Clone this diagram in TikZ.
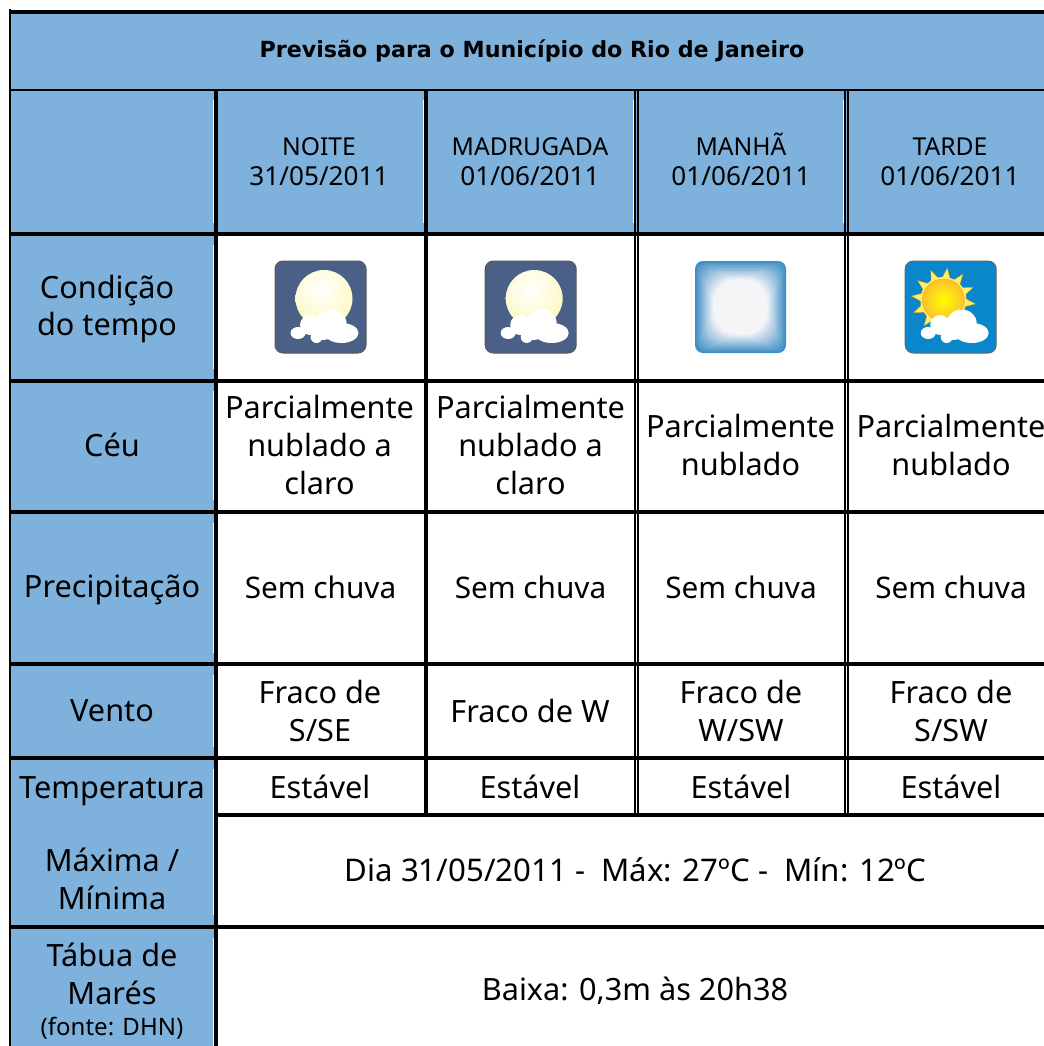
\documentclass[tikz,border=0pt]{standalone}
\usepackage{fontspec}
\setmainfont{Noto Sans}
\newfontfamily\titlefont{DejaVu Sans}
\definecolor{hdr}{HTML}{7EB1DB}
\definecolor{night}{HTML}{4A6087}
\definecolor{sky}{HTML}{0A87CB}
\definecolor{hazeedge}{HTML}{3F8EC6}
\definecolor{hazecore}{HTML}{F5F5F8}
\definecolor{moonrim}{HTML}{FBF6A8}
\definecolor{raycol}{HTML}{FFEE66}
\definecolor{suncol}{HTML}{FBC02D}
\tikzset{
  hfill/.style={fill=hdr,draw=none},
  thick line/.style={line width=3pt},
  thin line/.style={line width=1.5pt},
  txt/.style={font=\fontsize{23}{28.3}\selectfont,align=center,text=black,inner sep=0pt},
  chd/.style={txt,font=\fontsize{18.5}{22}\selectfont},
  rain/.style={txt,font=\fontsize{22.3}{28}\selectfont},
  icon/.style={rounded corners=6pt,line width=.75pt},
}
\newcommand{\hdate}[1]{{\fontsize{19.6}{22}\selectfont #1}}
\newcommand{\cloudshape}{%
  \fill[white] (-22.5,26) ellipse [x radius=7.5,y radius=6];
  \fill[white] (-10.5,18) ellipse [x radius=10,y radius=10];
  \fill[white] (-4,30) ellipse [x radius=6,y radius=6];
  \fill[white] (11,16.5) ellipse [x radius=15,y radius=14];
  \fill[white] (21,26) ellipse [x radius=17,y radius=10];
  \fill[white] (3,25) ellipse [x radius=10,y radius=8];
}
\newcommand{\moonicon}[2]{%
 \begin{scope}[shift={(#1,#2)}]
  \fill[night,draw=black!65,icon] (-45.5,-46) rectangle (45.5,46);
  \begin{scope}
   \clip (3.5,-8.5) circle [radius=28.5];
   \shade[inner color=white,outer color=moonrim] (0,-17) circle [radius=52];
  \end{scope}
  \cloudshape
 \end{scope}}
\begin{document}
\begin{tikzpicture}[x=0.75pt,y=-0.75pt]
\useasboundingbox (0,0) rectangle (1044,1046);
\fill[white] (0,0) rectangle (1044,1046);
% blue areas
\fill[hfill] (10,12) rectangle (1044,233);
\fill[hfill] (10,233) rectangle (214,1046);
% white slivers beside the inner borders
\foreach \xx in {213,423,633,843} \fill[white] (\xx,100) rectangle (\xx+1,223);
\foreach \ya/\yb in {245/369,391/500,523/653,675/747,769/915,938/1046}
  \fill[white] (213,\ya) rectangle (214,\yb);
% borders
\draw[black,thick line] (10,12) -- (1044,12);
\draw[black,line width=1.5pt] (10,9) -- (10,1046);
\draw[black,thin line] (10,90) -- (1044,90);
\foreach \yy in {234,380.5,511.5,664,758,927} \draw[black,thick line] (10,\yy) -- (1044,\yy);
\draw[black,thick line] (216,815) -- (1044,815);
\draw[black,thick line] (216,90) -- (216,1046);
\draw[black,thick line] (426,90) -- (426,816);
\foreach \xx in {635,638,845,848} \draw[black,line width=1.5pt] (\xx,90) -- (\xx,816);
% title
\node[txt,font=\fontsize{16.65}{20}\titlefont\bfseries] (title) at (532,51) {Previsão para o Município do Rio de Janeiro};
% column headers
\node[chd] (h1) at (319,159.5) {\vphantom{Ã}NOITE\\\hdate{31/05/2011}};
\node[chd] (h2) at (530,159.5) {\vphantom{Ã}MADRUGADA\\\hdate{01/06/2011}};
\node[chd] (h3) at (741,159.5) {\vphantom{Ã}MANHÃ\\\hdate{01/06/2011}};
\node[chd] (h4) at (950,159.5) {\vphantom{Ã}TARDE\\\hdate{01/06/2011}};
% row headers
\node[txt] (r1) at (107,309) {Condição\\do tempo};
\node[txt] (r2) at (112,445) {Céu};
\node[txt] (r3) at (112,590) {Precipitação};
\node[txt] (r4) at (112,711) {Vento};
\node[txt] (r5) at (112,791) {Temperatura};
\node[txt] (r6) at (112,879) {Máxima /\\Mínima};
\node[txt] (r7) at (112,974) {Tábua de\\Marés};
\node[txt,font=\fontsize{18}{20}\selectfont] (r7b) at (112,1028) {(fonte: DHN)};
% icons
\moonicon{320.5}{307}
\moonicon{530.7}{307}
\begin{scope}[shift={(740.5,307)}]
  \foreach \i in {0,...,13}{
    \pgfmathsetmacro{\inset}{\i*1.4}
    \pgfmathsetmacro{\mixp}{100-\i*7.7}
    \pgfmathsetmacro{\rad}{6+\i*0.9}
    \fill[hazeedge!\mixp!hazecore,rounded corners=\rad pt] (-45.5+\inset,-46+\inset) rectangle (45.5-\inset,46-\inset);
  }
\end{scope}
\begin{scope}[shift={(950.7,307)}]
  \fill[sky,draw=black!60,icon] (-45.5,-46) rectangle (45.5,46);
  \begin{scope}[shift={(-7.3,-7)}]
   \foreach \a in {7,37,...,337}
     \fill[raycol,draw=orange!60!yellow,line width=.3pt] (\a-14:20) -- (\a:32) -- (\a+14:20) -- cycle;
   \fill[raycol] (0,0) circle [radius=23];
   \shade[inner color=yellow,outer color=suncol,draw=orange!70!yellow,line width=.3pt] (0,0) circle [radius=21];
  \end{scope}
  \cloudshape
\end{scope}
% cells
\node[txt] (c11) at (319.5,445) {Parcialmente\\nublado a\\claro};
\node[txt] (c12) at (530.5,445) {Parcialmente\\nublado a\\claro};
\node[txt] (c13) at (740.5,445) {Parcialmente\\nublado};
\node[txt] (c14) at (951,445) {Parcialmente\\nublado};
\node[rain] (c21) at (320.5,587) {Sem chuva};
\node[rain] (c22) at (530.5,587) {Sem chuva};
\node[rain] (c23) at (741,587) {Sem chuva};
\node[rain] (c24) at (951,587) {Sem chuva};
\node[txt] (c31) at (320,711) {Fraco de\\S/SE};
\node[txt] (c32) at (530,711) {Fraco de W};
\node[txt] (c33) at (741,711) {Fraco de\\W/SW};
\node[txt] (c34) at (951,711) {Fraco de\\S/SW};
\node[txt] (c41) at (320,787) {Estável};
\node[txt] (c42) at (530,787) {Estável};
\node[txt] (c43) at (741,787) {Estável};
\node[txt] (c44) at (951,787) {Estável};
\node[txt,font=\fontsize{23.4}{28}\selectfont] (c5) at (635.5,870) {Dia 31/05/2011 -\ \ Máx: 27ºC -\ \ Mín: 12ºC};
\node[txt] (c6) at (635,991) {Baixa: 0,3m às 20h38};
\end{tikzpicture}
\end{document}
